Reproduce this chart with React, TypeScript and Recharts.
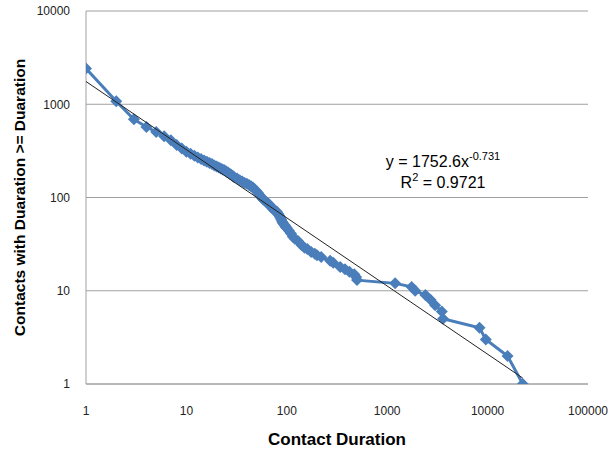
import React from "react";
import {
  ScatterChart,
  Scatter,
  XAxis,
  YAxis,
  CartesianGrid,
  Label,
} from "recharts";

// contact duration (x) vs. number of contacts lasting at least that long (y)
const durations = [
  1, 2, 3, 4, 5, 6, 7, 8, 9, 10, 11, 12, 13, 14, 15, 16, 17, 18, 19, 20, 21,
  22, 23, 24, 25, 26, 27, 28, 29, 30, 32, 34, 36, 38, 40, 42, 44, 46, 48, 50,
  52, 54, 56, 58, 60, 62, 64, 66, 68, 70, 72, 74, 76, 78, 80, 82, 84, 86, 88,
  90, 92, 94, 96, 98, 100, 105, 110, 115, 120, 130, 140, 150, 160, 175, 190,
  200, 220, 270, 290, 340, 380, 420, 470, 490, 500, 1200, 1750, 1900, 2400,
  2700, 3000, 3500, 3600, 8300, 9600, 15800, 22400,
];
const contacts = [
  2420, 1075, 690, 570, 505, 453, 410, 365, 335, 310, 295, 280, 268, 258, 250,
  242, 235, 228, 221, 215, 210, 205, 200, 196, 190, 185, 180, 175, 170, 165,
  160, 153, 148, 143, 140, 136, 132, 128, 122, 117, 111, 105, 100, 96, 93, 90,
  88, 85, 82, 79, 76, 74, 73, 71, 70, 67, 64, 61, 58, 55, 53, 51, 50, 48, 47,
  44, 41, 38, 36, 34, 31, 29, 28, 26, 25, 24, 23, 21, 20, 18, 17, 16, 15, 14,
  13, 12, 11, 10, 9, 8, 7, 6, 5, 4, 3, 2, 1,
];

const xTicks = [1, 10, 100, 1000, 10000, 100000];
const yTicks = [1, 10, 100, 1000, 10000];

// power trendline from the chart: y = 1752.6 x^-0.731
const TREND_A = 1752.6;
const TREND_B = -0.731;

const data = durations.map((d, i) => ({ x: d, y: contacts[i] }));
const trendX = [durations[0], durations[durations.length - 1]];
const trend = trendX.map((x) => ({ x, y: TREND_A * Math.pow(x, TREND_B) }));

const BLUE = "#4A7EBB";
const FONT = "'Liberation Sans', Arial, sans-serif";

const Diamond = (props: any) => {
  const { cx, cy } = props;
  if (cx == null || cy == null) return <g />;
  const r = 6;
  return (
    <path
      d={`M${cx},${cy - r}L${cx + r},${cy}L${cx},${cy + r}L${cx - r},${cy}Z`}
      fill={BLUE}
    />
  );
};

const NoDot = () => <g />;

const supStyle: React.CSSProperties = {
  fontSize: 11,
  verticalAlign: "7px",
  lineHeight: 0,
};

export default function App() {
  return (
    <div
      style={{
        position: "absolute",
        left: 0,
        top: 0,
        width: 609,
        height: 450,
        background: "#fff",
        fontFamily: FONT,
      }}
    >
      <ScatterChart
        width={609}
        height={450}
        margin={{ top: 11, right: 21, bottom: 0, left: 0 }}
      >
        <CartesianGrid vertical={false} stroke="#A0A0A0" />
        <XAxis
          type="number"
          dataKey="x"
          scale="log"
          domain={[1, 100000]}
          ticks={xTicks}
          allowDataOverflow
          height={66}
          tickLine={false}
          tickMargin={16}
          axisLine={{ stroke: "#A0A0A0" }}
          tick={{ fill: "#222", fontSize: 12, fontFamily: FONT }}
        >
          <Label
            value="Contact Duration"
            position="insideBottom"
            offset={5}
            style={{ fontWeight: "bold", fontSize: 17, fill: "#000", fontFamily: FONT }}
          />
        </XAxis>
        <YAxis
          type="number"
          dataKey="y"
          scale="log"
          domain={[1, 10000]}
          ticks={yTicks}
          allowDataOverflow
          width={86}
          tickLine={false}
          tickMargin={10}
          axisLine={{ stroke: "#A0A0A0" }}
          tick={{ fill: "#222", fontSize: 12, fontFamily: FONT }}
        >
          <Label
            value="Contacts with Duaration >= Duaration"
            angle={-90}
            position="insideLeft"
            offset={19}
            style={{
              textAnchor: "middle",
              fontWeight: "bold",
              fontSize: 15.5,
              fill: "#000",
              fontFamily: FONT,
            }}
          />
        </YAxis>
        <Scatter
          data={data}
          line={{ stroke: BLUE, strokeWidth: 3 }}
          shape={<Diamond />}
          isAnimationActive={false}
        />
        <Scatter
          data={trend}
          line={{ stroke: "#222", strokeWidth: 1 }}
          shape={<NoDot />}
          isAnimationActive={false}
        />
      </ScatterChart>
      <div
        style={{
          position: "absolute",
          left: 343,
          top: 151,
          width: 200,
          textAlign: "center",
          fontSize: 16,
          lineHeight: "21px",
          color: "#000",
        }}
      >
        <div>
          y = 1752.6x<sup style={supStyle}>-0.731</sup>
        </div>
        <div>
          R<sup style={supStyle}>2</sup> = 0.9721
        </div>
      </div>
    </div>
  );
}
